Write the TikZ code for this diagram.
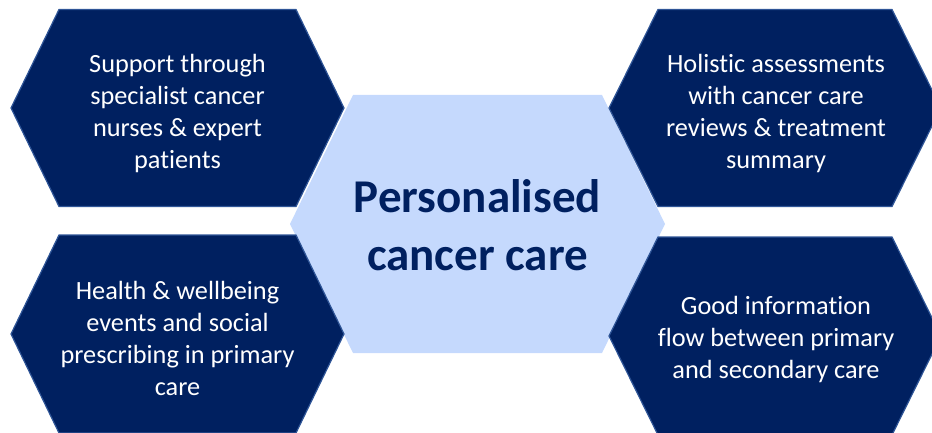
\documentclass[tikz,border=0pt]{standalone}
\usepackage{fontspec}
\setmainfont[Ligatures=NoCommon]{Carlito}
\definecolor{navy}{HTML}{002060}
\definecolor{edgeblue}{HTML}{2F5597}
\definecolor{paleblue}{HTML}{C5D9FD}
\begin{document}
\begin{tikzpicture}[x=1pt,y=1pt,
  outerhex/.style={fill=navy,draw=edgeblue,line width=1.2pt,line join=miter},
  centrehex/.style={fill=paleblue,draw=none},
  outertext/.style={text=white,align=center,font=\fontsize{26.3}{32}\selectfont},
  centretext/.style={text=navy,align=center,font=\bfseries\fontsize{47}{58}\selectfont}]
% hexagon: centre (#1,#2), half width #3, corner inset #4, half height #5
\newcommand\hexpath[5]{(#1-#3,#2) -- (#1-#3+#4,#2+#5) -- (#1+#3-#4,#2+#5) -- (#1+#3,#2) -- (#1+#3-#4,#2-#5) -- (#1-#3+#4,#2-#5) -- cycle}
\useasboundingbox (0,0) rectangle (932,432);
% central hexagon
\path[centrehex] \hexpath{477.5}{208}{187.5}{63}{129};
% four outer hexagons
\path[outerhex] \hexpath{177.5}{324}{166.5}{48}{98.5};
\path[outerhex] \hexpath{775}{324}{166}{49}{98.5};
\path[outerhex] \hexpath{177.5}{98}{166.5}{48}{99};
\path[outerhex] \hexpath{775}{96}{166}{49}{99};
% labels
\node[centretext] (core) at (477.5,207) {Personalised\\cancer care};
\node[outertext] (tl) at (177.5,319) {Support through\\specialist cancer\\nurses \& expert\\patients};
\node[outertext] (tr) at (776,319) {Holistic assessments\\with cancer care\\reviews \& treatment\\summary};
\node[outertext] (bl) at (177.5,94) {Health \& wellbeing\\events and social\\prescribing in primary\\care};
\node[outertext] (br) at (776,93) {Good information\\flow between primary\\and secondary care};
\end{tikzpicture}
\end{document}
